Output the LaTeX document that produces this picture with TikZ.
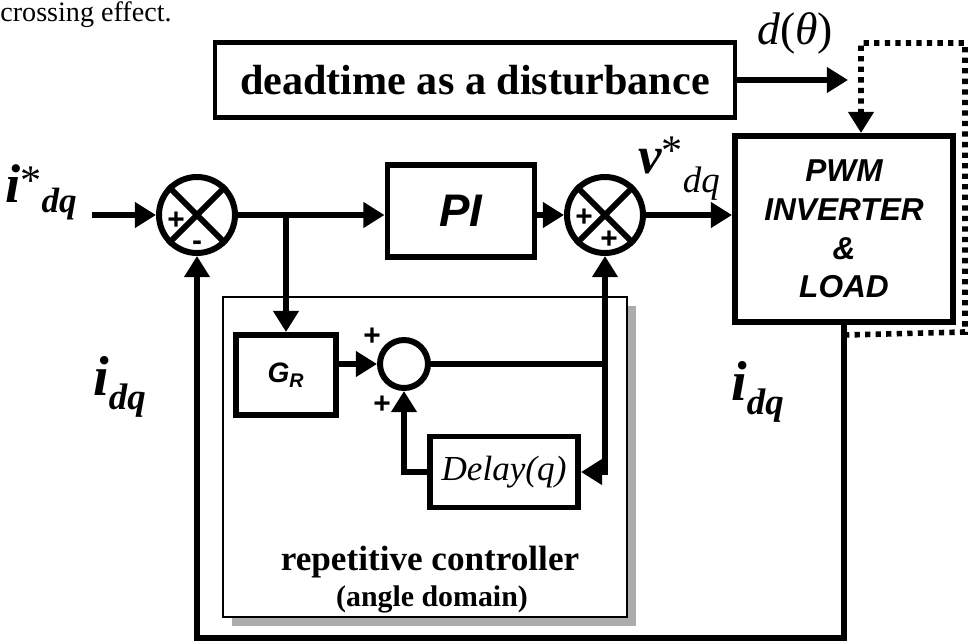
\documentclass[tikz,border=0pt]{standalone}
\usepackage{fontspec}
\setmainfont{Liberation Serif}
\setsansfont{Liberation Sans}
\usetikzlibrary{arrows.meta}

\begin{document}
\begin{tikzpicture}[x=0.2mm, y=-0.2mm,
		>={Triangle[length=12pt,width=14pt]},
		conn/.style={line width=3.2pt},
		block/.style={draw, line width=3.4pt, inner sep=0pt},
		sumnode/.style={draw, circle, line width=3.4pt, minimum size=15.2mm, inner sep=0pt},
		sgn/.style={inner sep=0pt, font=\sffamily\bfseries\fontsize{17}{17}\selectfont},
		lbl/.style={inner sep=0pt, anchor=base west},
		dashline/.style={line width=3.2pt, dash pattern=on 3pt off 3pt}]
	
	\useasboundingbox (0,0) rectangle (970,643);
	
	% Text left over from the page
	\node[lbl, font=\fontsize{16}{16}\selectfont] (cap) at (0,22) {crossing effect.};
	
	% Shadow and frame of the repetitive controller
	\fill[gray!65] (232,306) rectangle (636,626);
	\node[draw, line width=0.8pt, fill=white, minimum width=80.8mm, minimum height=64mm] (rc) at (425,457) {};
	\node[inner sep=0pt, font=\bfseries\fontsize{20}{20}\selectfont] (rctitle) at (430,562) {repetitive controller};
	\node[inner sep=0pt, font=\bfseries\fontsize{17}{17}\selectfont] (rcsub) at (432,599) {(angle domain)};
	
	% Blocks
	\node[block, line width=2.4pt, minimum width=104mm, minimum height=15mm, font=\bfseries\fontsize{24}{24}\selectfont] (dead) at (475,80) {deadtime as a disturbance};
	\node[sumnode] (s1) at (197,215) {};
	\node[block, minimum width=29.4mm, minimum height=18.4mm, font=\sffamily\bfseries\itshape\fontsize{26}{26}\selectfont] (pi) at (461,211) {PI};
	\node[sumnode] (s2) at (605,215) {};
	\node[block, minimum width=43.6mm, minimum height=37.2mm, align=center, font=\sffamily\bfseries\itshape\fontsize{18}{22}\selectfont] (pwm) at (844,229) {PWM\\INVERTER\\\&\\LOAD};
	\node[block, minimum width=20mm, minimum height=16mm, font=\sffamily\bfseries\itshape\fontsize{16}{16}\selectfont] (gr) at (286,375) {G\textsubscript{R}};
	\node[sumnode, minimum size=9.6mm] (sr) at (404,364) {};
	\node[block, minimum width=29.6mm, minimum height=14.2mm, font=\itshape\fontsize{20}{20}\selectfont] (delay) at (504,472) {Delay(q)};
	
	% Crosses in the summing junctions
	\foreach \s in {s1,s2}
		\draw[line width=3.4pt] (\s.north west) -- (\s.south east) (\s.north east) -- (\s.south west);
	
	% Signs
	\node[sgn] (p1) at (176,221) {+};
	\node[sgn] (m1) at (197,246) {-};
	\node[sgn] (p2) at (584,218) {+};
	\node[sgn] (p3) at (609,240) {+};
	\node[sgn] (p4) at (372,337) {+};
	\node[sgn] (p5) at (382,405) {+};
	
	% Signal labels
	\node[lbl] (iref) at (5,202) {\fontsize{31}{31}\selectfont\bfseries\itshape i\raisebox{4pt}{\mdseries\upshape\fontsize{24}{24}\selectfont *}\raisebox{-6pt}{\fontsize{20}{20}\selectfont dq}};
	\node[lbl] (vref) at (638,173) {\fontsize{30}{30}\selectfont\bfseries\itshape v\raisebox{5pt}{\mdseries\upshape\fontsize{24}{24}\selectfont *}\raisebox{-11pt}{\mdseries\fontsize{21}{21}\selectfont dq}};
	\node[lbl] (ifb) at (93,395) {\fontsize{32}{32}\selectfont\bfseries\itshape i\raisebox{-8pt}{\fontsize{21}{21}\selectfont dq}};
	\node[lbl] (iout) at (731,400) {\fontsize{32}{32}\selectfont\bfseries\itshape i\raisebox{-8pt}{\fontsize{21}{21}\selectfont dq}};
	\node[inner sep=0pt, font=\fontsize{26}{26}\selectfont] (dlab) at (795,33) {\textit{d}(\textit{θ})};
	
	% Free ends and corners
	\coordinate (in) at (92,215);
	\coordinate (dtip) at (848,80);
	\coordinate (br) at (s1.east -| gr.north);
	\coordinate (jr) at (s2.south |- sr.east);
	\coordinate (fb) at (pwm.south |- 0,638);
	\coordinate (dl1) at (965,332);
	\coordinate (dl2) at (965,43);
	\coordinate (dl3) at (861,43);
	
	% Forward path
	\draw[conn, ->] (in) -- (s1.west);
	\draw[conn, ->] (s1.east) -- (s1.east -| pi.west);
	\draw[conn, ->] (pi.east |- s2.west) -- (s2.west);
	\draw[conn, ->] (s2.east) -- (s2.east -| pwm.west);
	
	% Repetitive controller loop
	\draw[conn, ->] (br) -- (gr.north);
	\draw[conn, ->] (gr.east |- sr.west) -- (sr.west);
	\draw[conn] (sr.east) -- (jr);
	\draw[conn, ->] (jr) -- (s2.south);
	\draw[conn, ->] (jr) |- (delay.east);
	\draw[conn, ->] (delay.west) -| (sr.south);
	
	% Feedback of the current
	\draw[conn, ->] (pwm.south) -- (fb) -| (s1.south);
	
	% Disturbance
	\draw[conn, ->] (dead.east) -- (dtip);
	\draw[dashline, ->] ([yshift=-5.7pt]pwm.south) -- (dl1) -- (dl2) -- (dl3) -- (dl3 |- pwm.north);
	
\end{tikzpicture}
\end{document}
